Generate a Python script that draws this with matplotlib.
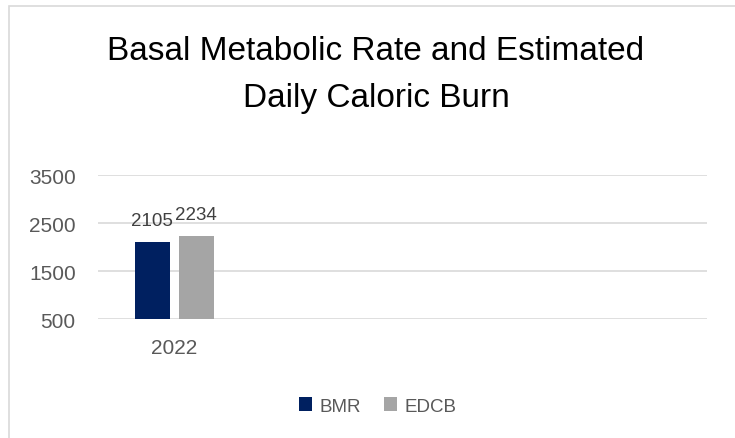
import numpy as np
import matplotlib.pyplot as plt
from matplotlib.patches import Rectangle

plt.rcParams['font.family'] = ['Liberation Sans', 'DejaVu Sans']

categories = ['2022']
series = ['BMR', 'EDCB']
bmr = [2105]
edcb = [2234]
colors = ['#002060', '#A5A5A5']
yticks = [500, 1500, 2500, 3500]

W, H = 735, 439
fig = plt.figure(figsize=(W / 100, H / 100), dpi=100)

# chart border (Excel style)
fig.patches.append(Rectangle((9 / W, -0.01), 1.0, 1 - 7 / H + 0.01, transform=fig.transFigure,
                             fill=False, edgecolor='#D9D9D9', linewidth=1.2))

ax = fig.add_axes([98 / W, 1 - 320 / H, (707 - 98) / W, (320 - 176) / H])

x = np.arange(len(categories))
bw = 0.23
off = 0.145
for vals, name, c, dx in zip([bmr, edcb], series, colors, [-off, off]):
    bars = ax.bar(x + dx, np.array(vals) - 500, bw, bottom=500, color=c, label=name, zorder=3)
    for b, v in zip(bars, vals):
        ax.text(b.get_x() + b.get_width() / 2, v + 440, str(v), ha='center', va='center',
                fontsize=13.5, color='#404040')

ax.set_xlim(-0.5, 3.5)
ax.set_ylim(500, 3500)
ax.set_yticks(yticks)
ax.set_yticklabels([str(t) for t in yticks], fontsize=15, color='#595959')
ax.set_xticks(x)
ax.set_xticklabels(categories, fontsize=15, color='#595959')
ax.tick_params(length=0)
ax.tick_params(axis='y', pad=16)
ax.tick_params(axis='x', pad=14)
ax.grid(axis='y', color='#D9D9D9', linewidth=1.2, zorder=0)
for s in ax.spines.values():
    s.set_visible(False)

fig.text(376 / W, 1 - 52 / H, 'Basal Metabolic Rate and Estimated', ha='center', va='center',
         fontsize=24, color='#000000')
fig.text(376 / W, 1 - 98 / H, 'Daily Caloric Burn', ha='center', va='center',
         fontsize=24, color='#000000')

fig.legend(loc='center', bbox_to_anchor=(378 / W, 1 - 407 / H), ncol=2, frameon=False,
           fontsize=13.5, labelcolor='#595959', handlelength=0.7, handleheight=0.7,
           handletextpad=0.4, columnspacing=1.2)

fig.savefig('out.png', dpi=100)
